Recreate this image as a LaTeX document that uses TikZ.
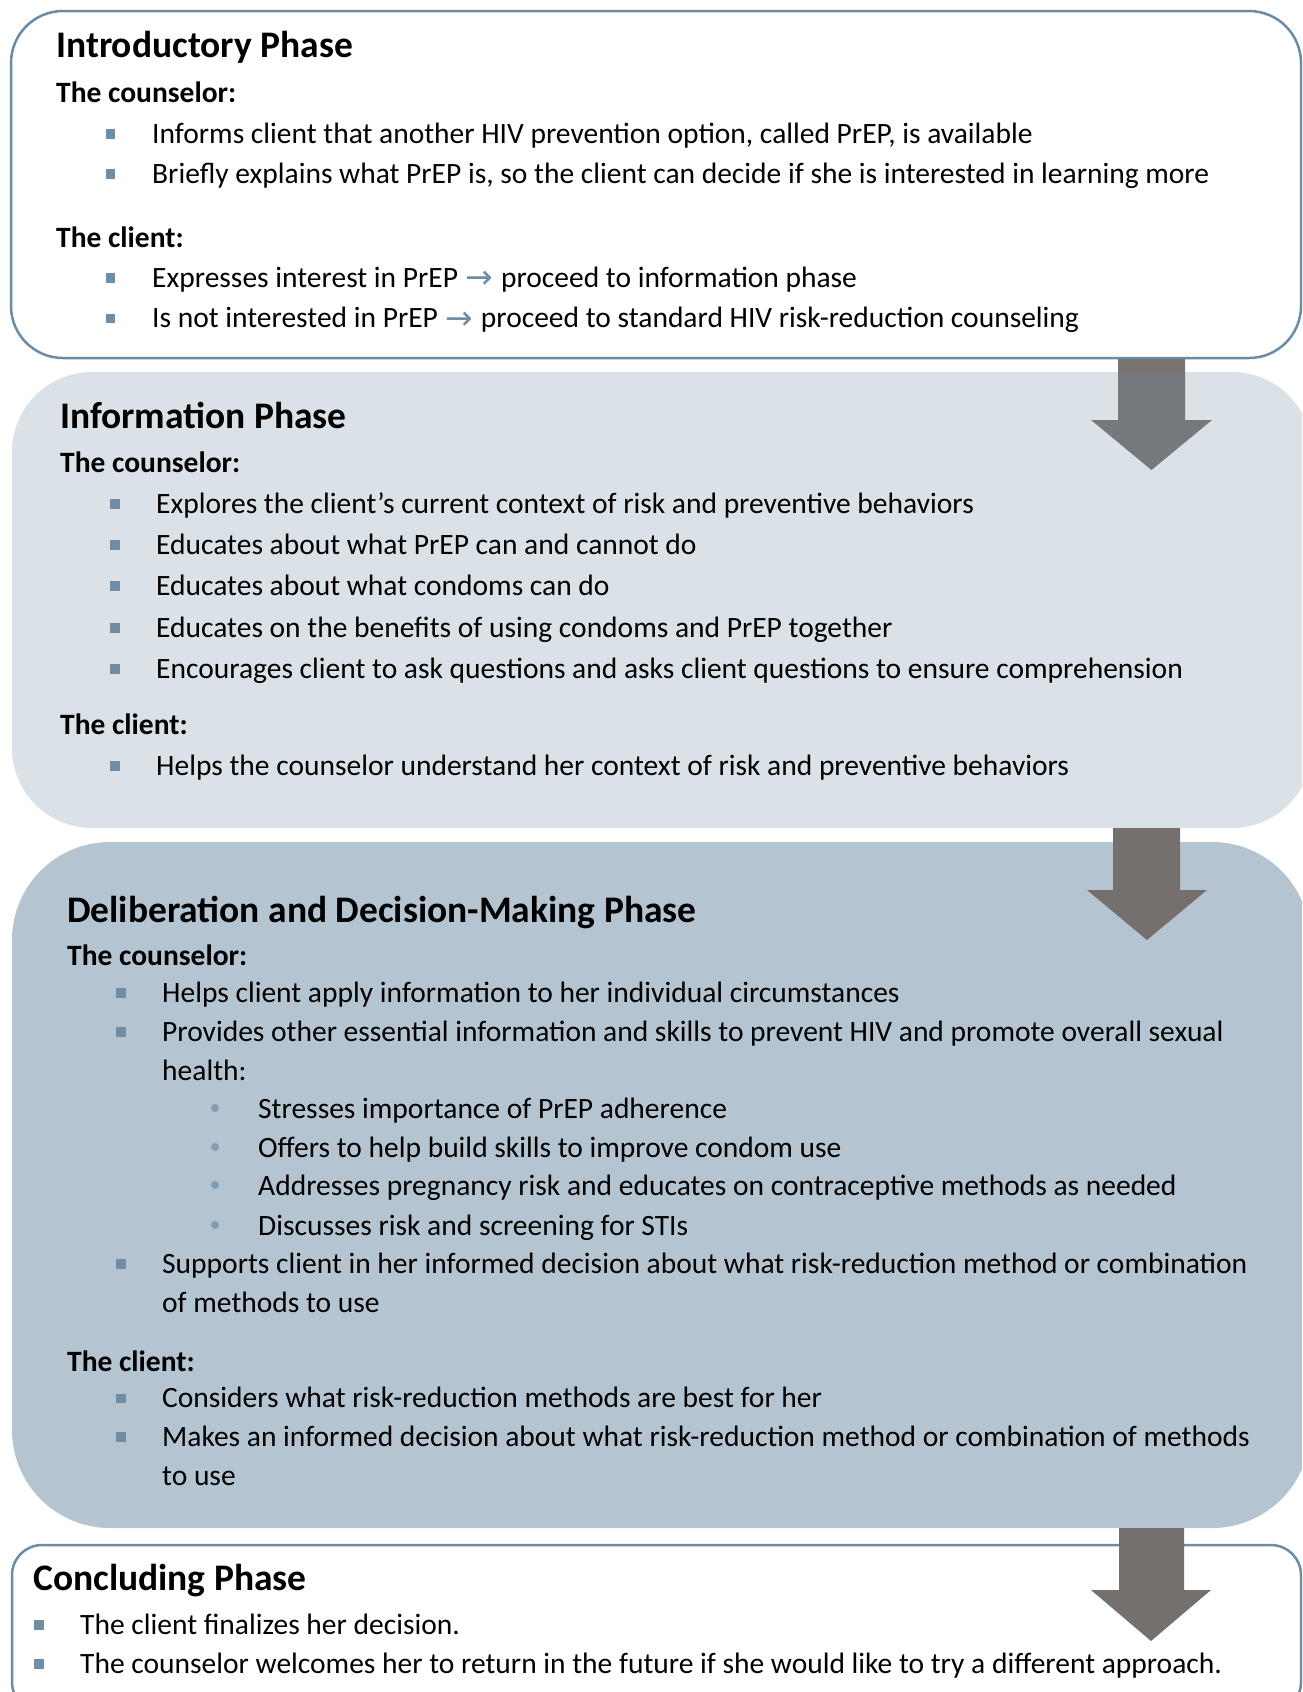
\documentclass[tikz,border=0pt]{standalone}
\usepackage{fontspec}
\setmainfont{Carlito}
\newfontfamily\djv{DejaVu Sans}
\definecolor{boxline}{RGB}{107,140,164}
\definecolor{sqblue}{RGB}{112,141,163}
\definecolor{dotblue}{RGB}{128,157,180}
\definecolor{infofill}{RGB}{218,225,231}
\definecolor{delibfill}{RGB}{180,197,209}
\definecolor{arrowA}{RGB}{117,120,124}
\definecolor{arrowAtop}{RGB}{122,116,113}
\definecolor{arrowB}{RGB}{117,111,110}
\newcommand\bodyfont{\fontsize{29.5}{35}\selectfont}
\newcommand\headfont{\fontsize{37.5}{44}\selectfont\bfseries}
\newcommand\subfont{\fontsize{29.5}{35}\selectfont\bfseries}
\newcommand\rarr{\hspace{1pt}\raisebox{-1.5pt}{\djv\color{sqblue}\fontsize{33}{36}\selectfont →}\hspace{1pt}}
\tikzset{
  body/.style={anchor=base west, inner sep=0pt, font=\bodyfont},
  head/.style={anchor=base west, inner sep=0pt, font=\headfont},
  sub/.style={anchor=base west, inner sep=0pt, font=\subfont},
  sq/.style={rectangle, fill=sqblue, minimum size=9.5pt, inner sep=0pt},
  dotb/.style={circle, fill=dotblue, minimum size=8pt, inner sep=0pt},
  outlinebox/.style={draw=boxline, line width=2.5pt, fill=white}
}
\begin{document}
\begin{tikzpicture}[x=1pt,y=-1pt]
\useasboundingbox (0,0) rectangle (1302,1692);
\clip (0,0) rectangle (1302,1692);

% ---------- boxes ----------
\path[outlinebox, rounded corners=52pt] (11,11) rectangle (1301,358);
\path[fill=infofill, rounded corners=80pt] (12,372) rectangle (1312,828);
\path[fill=delibfill, rounded corners=98pt] (12,842) rectangle (1310,1528);
\path[outlinebox, rounded corners=30pt] (12,1545) rectangle (1301,1712);

% ---------- block arrows ----------
\fill[arrowA] (1118,359) -- (1185,359) -- (1185,420) -- (1212,420) -- (1151.5,470) -- (1091,420) -- (1118,420) -- cycle;
\fill[arrowAtop] (1118,359) rectangle (1185,372);
\fill[arrowB] (1113,828) -- (1180,828) -- (1180,890) -- (1207,890) -- (1147,940) -- (1087,890) -- (1113,890) -- cycle;
\fill[arrowB] (1119,1528) -- (1184,1528) -- (1184,1590) -- (1211,1590) -- (1151,1641) -- (1091,1590) -- (1119,1590) -- cycle;

% ---------- Introductory Phase ----------
\node[head] (t1) at (56,57) {Introductory Phase};
\node[sub] (c1) at (56,102) {The counselor:};
\node[sq] (b11) at (110.5,134) {};
\node[body] (l11) at (152,143) {Informs client that another HIV prevention option, called PrEP, is available};
\node[sq] (b12) at (110.5,174) {};
\node[body] (l12) at (152,183) {Briefly explains what PrEP is, so the client can decide if she is interested in learning more};
\node[sub] (k1) at (56,247) {The client:};
\node[sq] (b13) at (110.5,278) {};
\node[body] (l13) at (152,287) {Expresses interest in PrEP \rarr{} proceed to information phase};
\node[sq] (b14) at (110.5,318.5) {};
\node[body] (l14) at (152,327.5) {Is not interested in PrEP \rarr{} proceed to standard HIV risk-reduction counseling};

% ---------- Information Phase ----------
\node[head] (t2) at (60,428.5) {Information Phase};
\node[sub] (c2) at (60,472) {The counselor:};
\node[sq] (b21) at (115,504) {};
\node[body] (l21) at (156,513) {Explores the client’s current context of risk and preventive behaviors};
\node[sq] (b22) at (115,545) {};
\node[body] (l22) at (156,554) {Educates about what PrEP can and cannot do};
\node[sq] (b23) at (115,586) {};
\node[body] (l23) at (156,595) {Educates about what condoms can do};
\node[sq] (b24) at (115,628) {};
\node[body] (l24) at (156,637) {Educates on the benefits of using condoms and PrEP together};
\node[sq] (b25) at (115,669) {};
\node[body] (l25) at (156,678) {Encourages client to ask questions and asks client questions to ensure comprehension};
\node[sub] (k2) at (60,734.5) {The client:};
\node[sq] (b26) at (115,766) {};
\node[body] (l26) at (156,775) {Helps the counselor understand her context of risk and preventive behaviors};

% ---------- Deliberation and Decision-Making Phase ----------
\node[head] (t3) at (67,922) {Deliberation and Decision-Making Phase};
\node[sub] (c3) at (67,965) {The counselor:};
\node[sq] (b31) at (121,993) {};
\node[body] (l31) at (162,1002) {Helps client apply information to her individual circumstances};
\node[sq] (b32) at (121,1032) {};
\node[body] (l32) at (162,1041) {Provides other essential information and skills to prevent HIV and promote overall sexual};
\node[body] (l32b) at (162,1080) {health:};
\node[dotb] (d1) at (215,1108) {};
\node[body] (s1) at (258,1118) {Stresses importance of PrEP adherence};
\node[dotb] (d2) at (215,1147) {};
\node[body] (s2) at (258,1157) {Offers to help build skills to improve condom use};
\node[dotb] (d3) at (215,1185) {};
\node[body] (s3) at (258,1195) {Addresses pregnancy risk and educates on contraceptive methods as needed};
\node[dotb] (d4) at (215,1225) {};
\node[body] (s4) at (258,1235) {Discusses risk and screening for STIs};
\node[sq] (b33) at (121,1264) {};
\node[body] (l33) at (162,1273) {Supports client in her informed decision about what risk-reduction method or combination};
\node[body] (l33b) at (162,1312) {of methods to use};
\node[sub] (k3) at (67,1371.5) {The client:};
\node[sq] (b34) at (121,1398.5) {};
\node[body] (l34) at (162,1407.5) {Considers what risk-reduction methods are best for her};
\node[sq] (b35) at (121,1437) {};
\node[body] (l35) at (162,1446) {Makes an informed decision about what risk-reduction method or combination of methods};
\node[body] (l35b) at (162,1485) {to use};

% ---------- Concluding Phase ----------
\node[head] (t4) at (33,1590) {Concluding Phase};
\node[sq] (b41) at (39,1625) {};
\node[body] (l41) at (80,1634) {The client finalizes her decision.};
\node[sq] (b42) at (39,1664) {};
\node[body] (l42) at (80,1673) {The counselor welcomes her to return in the future if she would like to try a different approach.};
\end{tikzpicture}
\end{document}
